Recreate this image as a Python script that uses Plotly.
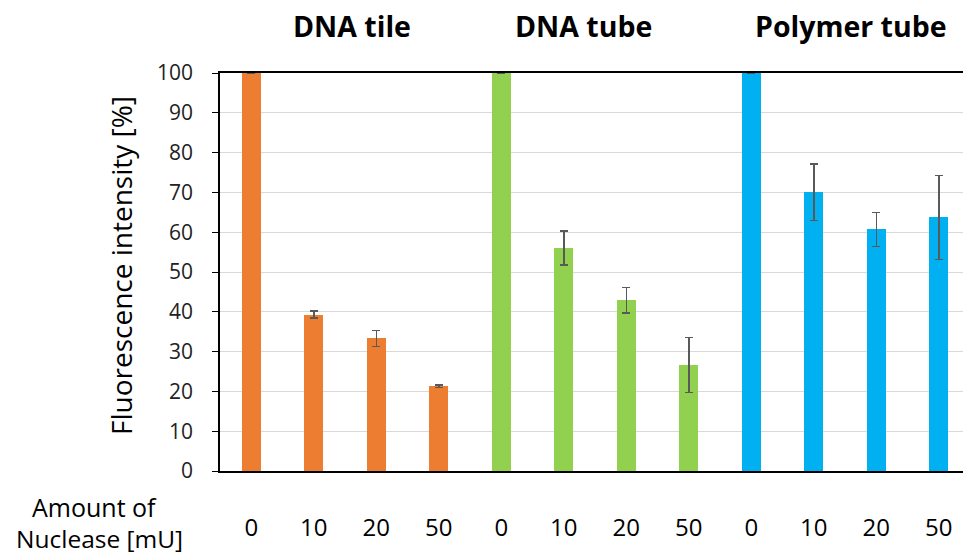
import plotly.graph_objects as go

groups = ["DNA tile", "DNA tube", "Polymer tube"]
nuclease = ["0", "10", "20", "50"]
colors = ["#ED7D31", "#92D050", "#00B0F0"]

tile_vals = [100, 39.3, 33.3, 21.3]
tile_err = [0, 0.9, 2.0, 0.35]
tube_vals = [100, 56.0, 42.9, 26.6]
tube_err = [0, 4.3, 3.2, 6.9]
poly_vals = [100, 70.0, 60.7, 63.7]
poly_err = [0, 7.1, 4.3, 10.5]

y_ticks = [0, 10, 20, 30, 40, 50, 60, 70, 80, 90, 100]

series = [(tile_vals, tile_err), (tube_vals, tube_err), (poly_vals, poly_err)]
title_pos = [1.61, 5.31, 9.6]

FONT = "Open Sans"
fig = go.Figure()
tickvals, ticktext = [], []
for g, (vals, errs) in enumerate(series):
    xs = [g * 4 + i for i in range(4)]
    tickvals += xs
    ticktext += nuclease
    fig.add_trace(go.Bar(
        x=xs, y=vals, width=0.3, marker=dict(color=colors[g], line=dict(width=0)),
        error_y=dict(type="data", array=[e if e > 0 else None for e in errs],
                     color="#595959", thickness=1.5, width=4, visible=True),
        showlegend=False, name=groups[g]))
    fig.add_annotation(x=title_pos[g], y=1.0, xref="x", yref="paper", yshift=47,
                       xanchor="center", yanchor="middle",
                       text="<b>%s</b>" % groups[g], showarrow=False,
                       font=dict(size=28.5, color="black", family=FONT))

fig.add_annotation(x=-0.132, y=0.515, xref="paper", yref="paper",
                   xanchor="center", yanchor="middle",
                   text="Fluorescence intensity [%]", textangle=-90, showarrow=False,
                   font=dict(size=28, color="black", family=FONT))
fig.add_annotation(x=-0.1667, y=-0.0905, xref="paper", yref="paper",
                   xanchor="center", yanchor="middle",
                   text="Amount of", showarrow=False,
                   font=dict(size=25, color="black", family=FONT))
fig.add_annotation(x=-0.1613, y=-0.1705, xref="paper", yref="paper",
                   xanchor="center", yanchor="middle",
                   text="Nuclease [mU]", showarrow=False,
                   font=dict(size=24.5, color="black", family=FONT))

# page body has an 8px default margin: size the figure so the plot lands where the reference has it
fig.update_layout(
    width=963, height=546,
    margin=dict(l=212, r=1, t=65, b=83, autoexpand=False),
    plot_bgcolor="white", paper_bgcolor="white",
    bargap=0,
    font=dict(family=FONT, color="black"),
)
fig.update_xaxes(range=[-0.5, 11.5], tickvals=tickvals, ticktext=ticktext,
                 tickfont=dict(size=24, color="black"), showgrid=False,
                 showline=True, mirror=True, linecolor="black", linewidth=1.5,
                 ticks="", ticklabelstandoff=34, zeroline=False)
fig.update_yaxes(range=[0, 100], tickvals=y_ticks, tickfont=dict(size=21, color="#222"),
                 showgrid=True, gridcolor="#D9D9D9", gridwidth=1,
                 showline=True, mirror=True, linecolor="black", linewidth=1.5,
                 ticks="outside", ticklen=6, tickcolor="black", tickwidth=1,
                 ticklabelstandoff=15, zeroline=False)

fig.write_html("out.html")
